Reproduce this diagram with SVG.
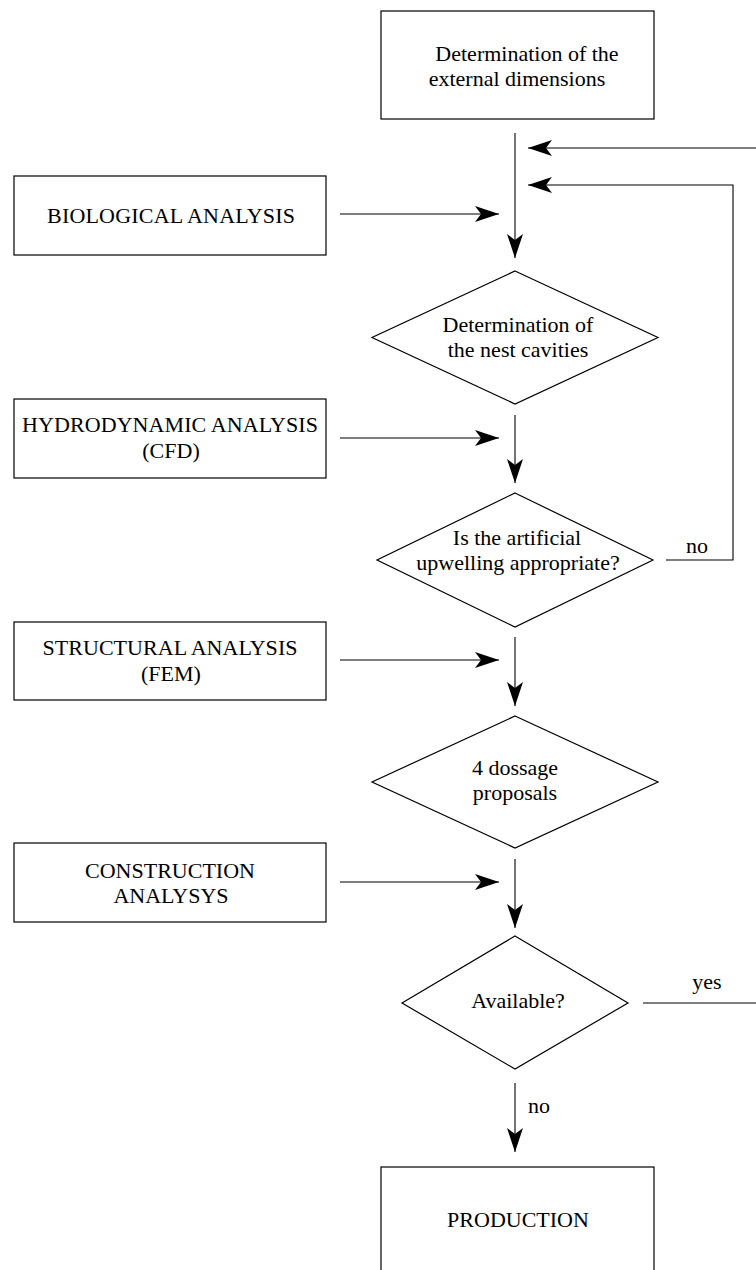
<svg xmlns="http://www.w3.org/2000/svg" width="756" height="1270" viewBox="0 0 756 1270">
<style>
.n{fill:#fff;stroke:#000;stroke-width:1.2}
.t{font-family:"Liberation Serif","Times New Roman",serif;font-size:22px;fill:#000;text-anchor:middle}
.c{fill:none;stroke:#000;stroke-width:1.1}
</style>
<defs>
<marker id="ah" markerUnits="userSpaceOnUse" markerWidth="24" markerHeight="16" refX="24" refY="8" orient="auto" viewBox="0 0 24 16">
<path d="M0,0 L24,8 L0,16 L6,8 Z" fill="#000"/>
</marker>
</defs>
<rect width="756" height="1270" fill="#fff"/>
<g id="connectors">
<path class="c" d="M515,133 V258" marker-end="url(#ah)"/>
<path class="c" d="M340,214 H499" marker-end="url(#ah)"/>
<path class="c" d="M756,148 H528" marker-end="url(#ah)"/>
<path class="c" d="M666,560 H733 V185 H528" marker-end="url(#ah)"/>
<path class="c" d="M515,415 V483" marker-end="url(#ah)"/>
<path class="c" d="M340,438 H499" marker-end="url(#ah)"/>
<path class="c" d="M515,637 V706" marker-end="url(#ah)"/>
<path class="c" d="M340,660 H499" marker-end="url(#ah)"/>
<path class="c" d="M515,859 V928" marker-end="url(#ah)"/>
<path class="c" d="M340,882 H499" marker-end="url(#ah)"/>
<path class="c" d="M515,1083 V1152" marker-end="url(#ah)"/>
<path class="c" d="M643,1003 H756"/>
<text class="t" x="697" y="553">no</text>
<text class="t" x="707" y="989">yes</text>
<text class="t" x="539" y="1113">no</text>
</g>
<g id="external-dimensions">
<rect class="n" x="381" y="11" width="273" height="108"/>
<text class="t" x="527" y="61">Determination of the</text>
<text class="t" x="517" y="86">external dimensions</text>
</g>
<g id="biological-analysis">
<rect class="n" x="14" y="176" width="312" height="79"/>
<text class="t" x="171" y="223" textLength="248" lengthAdjust="spacing">BIOLOGICAL ANALYSIS</text>
</g>
<g id="nest-cavities">
<polygon class="n" points="515,271 658,337.5 515,404 372,337.5"/>
<text class="t" x="518" y="332">Determination of</text>
<text class="t" x="518" y="357">the nest cavities</text>
</g>
<g id="hydrodynamic-analysis">
<rect class="n" x="14" y="399" width="312" height="79"/>
<text class="t" x="170" y="432" textLength="296" lengthAdjust="spacing">HYDRODYNAMIC ANALYSIS</text>
<text class="t" x="171" y="458">(CFD)</text>
</g>
<g id="upwelling-decision">
<polygon class="n" points="515,493 653,560 515,627 377,560"/>
<text class="t" x="517" y="545">Is the artificial</text>
<text class="t" x="518" y="570">upwelling appropriate?</text>
</g>
<g id="structural-analysis">
<rect class="n" x="14" y="622" width="312" height="78"/>
<text class="t" x="170" y="655" textLength="255" lengthAdjust="spacing">STRUCTURAL ANALYSIS</text>
<text class="t" x="171" y="681">(FEM)</text>
</g>
<g id="dossage-proposals">
<polygon class="n" points="515,716 658,782 515,848 372,782"/>
<text class="t" x="515" y="775">4 dossage</text>
<text class="t" x="515" y="800">proposals</text>
</g>
<g id="construction-analysis">
<rect class="n" x="14" y="843" width="312" height="79"/>
<text class="t" x="170" y="878">CONSTRUCTION</text>
<text class="t" x="171" y="903">ANALYSYS</text>
</g>
<g id="available-decision">
<polygon class="n" points="515,936 628,1003 515,1069 402,1003"/>
<text class="t" x="518" y="1008">Available?</text>
</g>
<g id="production">
<rect class="n" x="381" y="1167" width="273" height="110"/>
<text class="t" x="518" y="1227">PRODUCTION</text>
</g>
</svg>
